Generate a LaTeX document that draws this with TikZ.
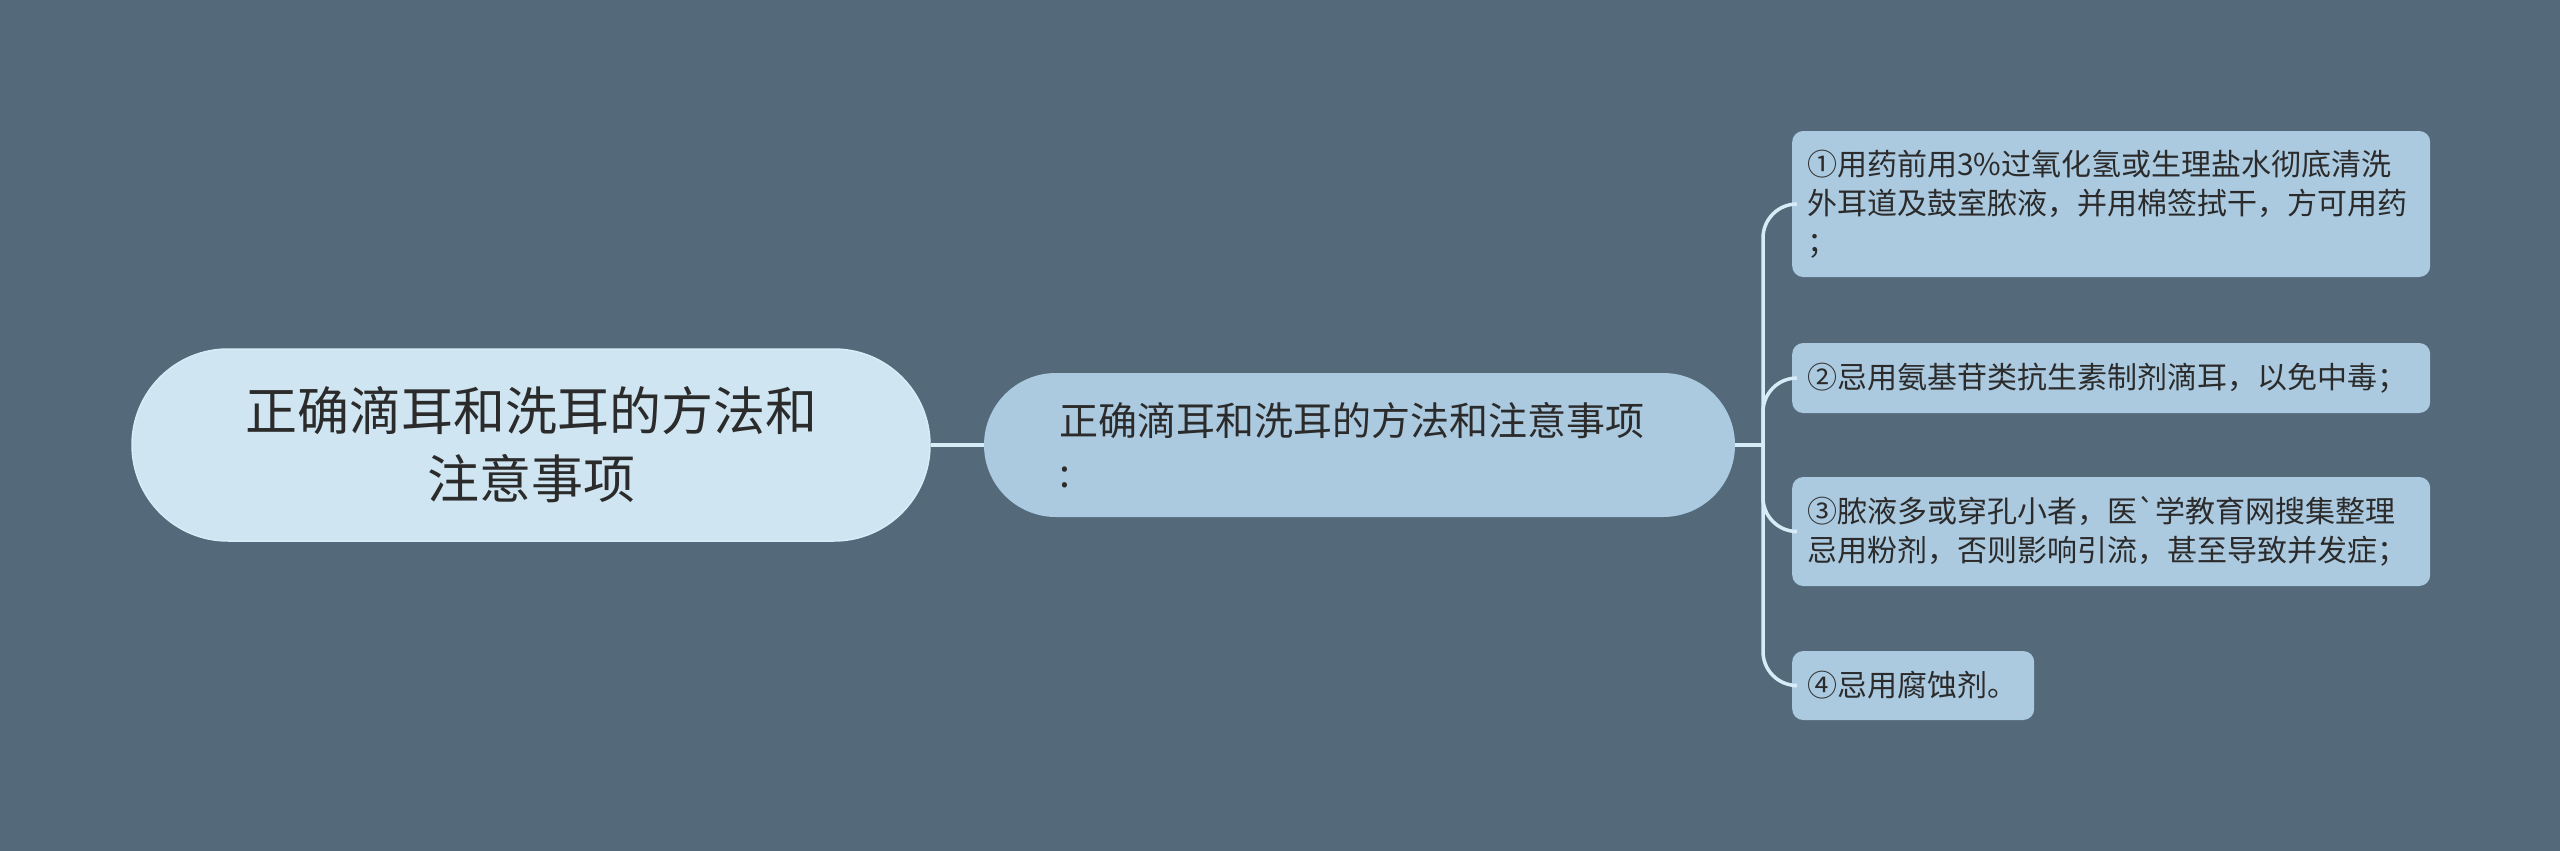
\documentclass[tikz,border=0pt]{standalone}
\usepackage{fontspec}
\newfontfamily\cjk{Noto Sans CJK SC}
\definecolor{bg}{HTML}{546A7B}
\definecolor{rootfill}{HTML}{CFE5F1}
\definecolor{nodefill}{HTML}{ABC9DF}
\definecolor{linec}{HTML}{D6ECF7}
\definecolor{txt}{HTML}{2B2B2B}
\begin{document}
\begin{tikzpicture}[x=1pt,y=-1pt,
  rootbox/.style={fill=rootfill,draw=linec,line width=1.5pt,rounded corners=96pt,minimum width=798pt,minimum height=192pt,inner sep=0pt,align=center,text=txt,font=\cjk\fontsize{52}{68}\selectfont},
  midbox/.style={fill=nodefill,rounded corners=72pt,minimum width=751pt,minimum height=144pt,text width=600pt,inner xsep=75.5pt,inner ysep=0pt,align=left,text=txt,font=\cjk\fontsize{39}{52}\selectfont},
  leafbox/.style={fill=nodefill,rounded corners=11pt,anchor=west,inner xsep=15pt,inner ysep=0pt,align=left,text=txt,font=\cjk\fontsize{30}{39}\selectfont},
  conn/.style={draw=linec,line width=4pt},
  branch/.style={draw=linec,line width=3.5pt,rounded corners=34pt}]
\fill[bg] (0,0) rectangle (2560,851);
\useasboundingbox (0,0) rectangle (2560,851);
\node[rootbox] (root) at (531,445) {正确滴耳和洗耳的方法和\\注意事项};
\node[midbox] (mid) at (1359.5,445) {正确滴耳和洗耳的方法和注意事项\\:};
\coordinate (hub) at (1763,445);
\node[leafbox,minimum width=638pt,minimum height=146pt,text width=608pt] (l1) at (1792,204) {①用药前用3\%过氧化氢或生理盐水彻底清洗\\外耳道及鼓室脓液，并用棉签拭干，方可用药\\；};
\node[leafbox,minimum width=638pt,minimum height=70pt,text width=608pt] (l2) at (1792,378) {②忌用氨基苷类抗生素制剂滴耳，以免中毒；};
\node[leafbox,minimum width=638pt,minimum height=109pt,text width=608pt] (l3) at (1792,531.5) {③脓液多或穿孔小者，医`学教育网搜集整理\\忌用粉剂，否则影响引流，甚至导致并发症；};
\node[leafbox,minimum width=242pt,minimum height=69pt,text width=212pt] (l4) at (1792,685.5) {④忌用腐蚀剂。};
\draw[conn] (root.east) -- (mid.west);
\draw[conn] (mid.east) -- (hub);
\draw[branch] (hub) |- (l1.west);
\draw[branch] (hub) |- (l2.west);
\draw[branch] (hub) |- (l3.west);
\draw[branch] (hub) |- (l4.west);
\end{tikzpicture}
\end{document}
